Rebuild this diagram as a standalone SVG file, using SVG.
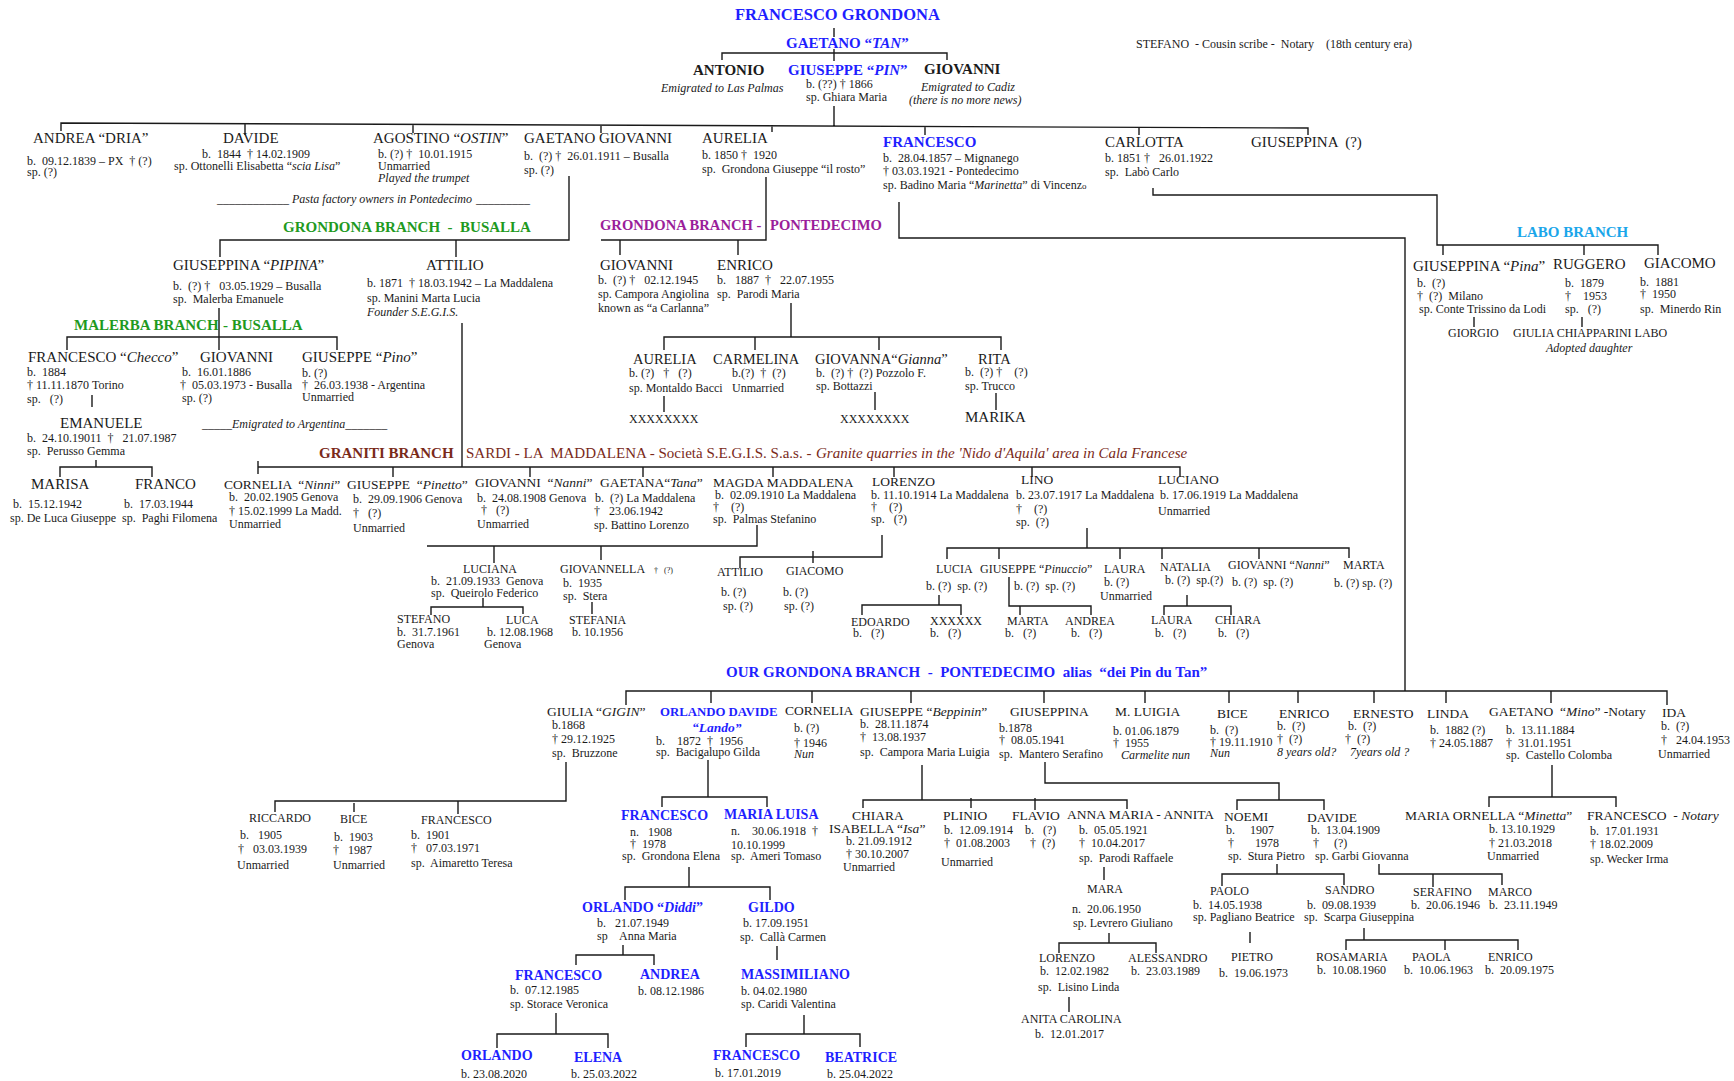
<svg xmlns="http://www.w3.org/2000/svg" width="1734" height="1081" viewBox="0 0 1734 1081">
<style>
text{font-family:"Liberation Serif","Times New Roman",serif;white-space:pre;fill:#1a1a1a}
.n{font-size:15px}
.m{font-size:13.5px}
.s{font-size:12px}
.d{font-size:12px}
.t{font-size:8px}
.g{font-size:14px}
.b{font-weight:bold}
.i{font-style:italic}
.blue{fill:#1f1fff}
.green{fill:#1f9a1f}
.purple{fill:#9a1e9a}
.brown{fill:#7a2a1a}
.lblue{fill:#1aa6ea}
#connectors path{fill:none;stroke:#1a1a1a;stroke-width:1.4}
</style>
<rect width="1734" height="1081" fill="#ffffff"/>
<g id="connectors">
<path d="M834,28V37M834,49V61M722,60V53H947V60"/>
<path d="M834,106V126M61,131V123L1308,128V135M245,124V135M413,124V133M601,125V133M772,125V132M925,127V135M1139,127V135"/>
<path d="M569,176V240H220V257M456,240V257"/>
<path d="M219,308V350M67,350V337H337V350"/>
<path d="M92,395V407M96,460V467M60,477V467H152V477"/>
<path d="M462,323V467M258,461V474M258,467H1180V477M393,467V477M530,467V477M643,467V477M773,467V477M894,467V477M1032,467V477"/>
<path d="M766,177V240H601M620,240V255M738,240V255"/>
<path d="M791,303V337M664,350V337H1001V350M755,337V350M879,337V350"/>
<path d="M664,396V412M875,392V410M996,393V410"/>
<path d="M899,202V238H1405V691"/>
<path d="M1153,188V195H1437V245H1658V255M1443,245V255M1584,245V255M1474,317V327M1582,317V327"/>
<path d="M757,525V546H427M494,546V563M601,546V560"/>
<path d="M483,598V607M431,615V607H523V614M592,602V614"/>
<path d="M882,535V557H740V568M813,551V563"/>
<path d="M1087,528V548M947,559V548H1349V558M999,548V559M1120,548V559M1162,548V559M1259,548V559"/>
<path d="M939,595V605M862,615V605H961V615M1009,577V606H1091V615M1020,606V615M1187,595V606M1164,615V606H1231V615"/>
<path d="M626,705V691H1667V705M711,691V703M812,691V703M911,691V703M1044,691V703M1145,691V703M1229,691V703M1298,691V703M1374,691V703M1446,691V703M1551,691V703"/>
<path d="M566,762V801H275V812M354,803V812M458,801V814"/>
<path d="M708,760V797M662,807V797H767V807M689,867V887M625,900V887H770V900"/>
<path d="M623,945V955M576,965V955H654V965M777,946V960"/>
<path d="M556,1013V1034M497,1048V1034H608V1048M804,1015V1034M746,1047V1034H860V1047"/>
<path d="M922,765V800M863,808V800H1127V809M971,798V808M1035,798V810M1104,867V880M1109,933V943M1059,953V943H1156V953M1069,997V1012"/>
<path d="M1045,762V783H1279V800M1237,810V800H1324V810"/>
<path d="M1277,864V874M1222,886V874H1344V885M1250,932V943M1364,928V940M1346,950V940H1518V950M1445,940V950"/>
<path d="M1379,864V874H1502V885M1433,874V887"/>
<path d="M1552,765V797M1489,807V797H1616V807"/>
</g>

<g id="francesco-grondona"><text x="735" y="20" class="b blue" style="font-size:16.5px">FRANCESCO GRONDONA</text></g>
<g id="gaetano-tan"><text x="786" y="48" class="n b blue">GAETANO “<tspan class="i">TAN</tspan>”</text></g>
<g id="stefano"><text x="1136" y="48" class="d">STEFANO  - Cousin scribe -  Notary    (18th century era)</text></g>
<g id="antonio"><text x="693" y="75" class="n b">ANTONIO</text><text x="661" y="92" class="d i">Emigrated to Las Palmas</text></g>
<g id="giuseppe-pin"><text x="788" y="75" class="n b blue">GIUSEPPE “<tspan class="i">PIN</tspan>”</text><text x="806" y="88" class="d">b. (??) † 1866</text><text x="806" y="101" class="d">sp. Ghiara Maria</text></g>
<g id="giovanni-cadiz"><text x="924" y="74" class="n b">GIOVANNI</text><text x="921" y="91" class="d i">Emigrated to Cadiz</text><text x="909" y="104" class="d i">(there is no more news)</text></g>

<g id="andrea"><text x="33" y="143" class="n">ANDREA “DRIA”</text><text x="27" y="165" class="d">b.  09.12.1839 – PX  † (?)</text><text x="27" y="176" class="d">sp. (?)</text></g>
<g id="davide"><text x="223" y="143" class="n">DAVIDE</text><text x="202" y="158" class="d">b.  1844  † 14.02.1909</text><text x="174" y="170" class="d">sp. Ottonelli Elisabetta “<tspan class="i">scia Lisa</tspan>”</text></g>
<g id="agostino"><text x="373" y="143" class="n">AGOSTINO “<tspan class="i">OSTIN</tspan>”</text><text x="378" y="158" class="d">b. (?) †  10.01.1915</text><text x="378" y="170" class="d">Unmarried</text><text x="378" y="182" class="d i">Played the trumpet</text></g>
<g id="pasta-note"><text y="203" class="d i"><tspan x="217">____________</tspan><tspan x="292">Pasta factory owners in Pontedecimo</tspan><tspan x="476">_________</tspan></text></g>
<g id="gaetano-giovanni"><text x="524" y="143" class="n">GAETANO GIOVANNI</text><text x="524" y="160" class="d">b.  (?) †  26.01.1911 – Busalla</text><text x="524" y="174" class="d">sp. (?)</text></g>
<g id="aurelia-1850"><text x="702" y="143" class="n">AURELIA</text><text x="702" y="159" class="d">b. 1850 †  1920</text><text x="702" y="173" class="d">sp.  Grondona Giuseppe “il rosto”</text></g>
<g id="francesco-1857"><text x="883" y="147" class="n b blue">FRANCESCO</text><text x="883" y="162" class="d">b.  28.04.1857 – Mignanego</text><text x="883" y="175" class="d">† 03.03.1921 - Pontedecimo</text><text x="883" y="189" class="d">sp. Badino Maria “<tspan class="i">Marinetta</tspan>” di Vincenz<tspan style="font-size:9px">o</tspan></text></g>
<g id="carlotta"><text x="1105" y="147" class="n">CARLOTTA</text><text x="1105" y="162" class="d">b. 1851 †   26.01.1922</text><text x="1105" y="176" class="d">sp.  Labò Carlo</text></g>
<g id="giuseppina-q"><text x="1251" y="147" class="n">GIUSEPPINA  (?)</text></g>

<g id="branch-busalla"><text x="283" y="232" class="n b green">GRONDONA BRANCH  -  BUSALLA</text></g>
<g id="branch-pontedecimo"><text x="600" y="230" class="n b purple" style="font-size:14.6px">GRONDONA BRANCH - <tspan x="770">PONTEDECIMO</tspan></text></g>
<g id="branch-labo"><text x="1517" y="237" class="n b lblue">LABO BRANCH</text></g>
<g id="branch-malerba"><text x="74" y="330" class="n b green">MALERBA BRANCH <tspan x="223">- BUSALLA</tspan></text></g>

<g id="giuseppina-pipina"><text x="173" y="270" class="n">GIUSEPPINA “<tspan class="i">PIPINA</tspan>”</text><text x="173" y="290" class="d">b.  (?) †   03.05.1929 – Busalla</text><text x="173" y="303" class="d">sp.  Malerba Emanuele</text></g>
<g id="attilio-1871"><text x="426" y="270" class="n">ATTILIO</text><text x="367" y="287" class="d">b. 1871  † 18.03.1942 – La Maddalena</text><text x="367" y="302" class="d">sp. Manini Marta Lucia</text><text x="367" y="316" class="d i">Founder S.E.G.I.S.</text></g>
<g id="giovanni-1945"><text x="600" y="270" class="n">GIOVANNI</text><text x="598" y="284" class="d">b.  (?) †   02.12.1945</text><text x="598" y="298" class="d">sp. Campora Angiolina</text><text x="598" y="312" class="d">known as “a Carlanna”</text></g>
<g id="enrico-1887"><text x="717" y="270" class="n">ENRICO</text><text x="717" y="284" class="d">b.   1887  †   22.07.1955</text><text x="717" y="298" class="d">sp.  Parodi Maria</text></g>
<g id="giuseppina-pina"><text x="1413" y="271" class="n">GIUSEPPINA “<tspan class="i">Pina</tspan>”</text><text x="1417" y="287" class="d">b.  (?)</text><text x="1417" y="300" class="d">†  (?)  Milano</text><text x="1419" y="313" class="d">sp. Conte Trissino da Lodi</text></g>
<g id="ruggero"><text x="1553" y="269" class="n">RUGGERO</text><text x="1565" y="287" class="d">b.  1879</text><text x="1565" y="300" class="d">†    1953</text><text x="1565" y="313" class="d">sp.   (?)</text></g>
<g id="giacomo-1881"><text x="1644" y="268" class="n">GIACOMO</text><text x="1640" y="286" class="d">b.  1881</text><text x="1640" y="298" class="d">†  1950</text><text x="1640" y="313" class="d">sp.  Minerdo Rin</text></g>
<g id="giorgio"><text x="1448" y="337" class="s">GIORGIO</text></g>
<g id="giulia-chiapparini"><text x="1513" y="337" class="s">GIULIA CHIAPPARINI LABO</text><text x="1546" y="352" class="d i">Adopted daughter</text></g>

<g id="francesco-checco"><text x="28" y="362" class="n">FRANCESCO “<tspan class="i">Checco</tspan>”</text><text x="27" y="376" class="d">b.  1884</text><text x="27" y="389" class="d">† 11.11.1870 Torino</text><text x="27" y="403" class="d">sp.   (?)</text></g>
<g id="giovanni-1886"><text x="200" y="362" class="n">GIOVANNI</text><text x="182" y="376" class="d">b.  16.01.1886</text><text x="180" y="389" class="d">†  05.03.1973 - Busalla</text><text x="182" y="402" class="d">sp. (?)</text></g>
<g id="giuseppe-pino"><text x="302" y="362" class="n">GIUSEPPE “<tspan class="i">Pino</tspan>”</text><text x="302" y="377" class="d">b. (?)</text><text x="302" y="389" class="d">†  26.03.1938 - Argentina</text><text x="302" y="401" class="d">Unmarried</text></g>
<g id="emanuele"><text x="60" y="428" class="n">EMANUELE</text><text x="27" y="442" class="d">b.  24.10.19011  †   21.07.1987</text><text x="27" y="455" class="d">sp.  Perusso Gemma</text></g>
<g id="argentina-note"><text x="202" y="428" class="d i">_____Emigrated to Argentina_______</text></g>
<g id="marisa"><text x="31" y="489" class="n">MARISA</text><text x="13" y="508" class="d">b.  15.12.1942</text><text x="10" y="522" class="d">sp. De Luca Giuseppe</text></g>
<g id="franco"><text x="135" y="489" class="n">FRANCO</text><text x="124" y="508" class="d">b.  17.03.1944</text><text x="122" y="522" class="d">sp.  Paghi Filomena</text></g>

<g id="aurelia-2"><text x="633" y="364" class="n" style="font-size:14.5px">AURELIA</text><text x="629" y="377" class="d">b. (?)   †   (?)</text><text x="629" y="392" class="d">sp. Montaldo Bacci</text></g>
<g id="carmelina"><text x="713" y="364" class="n" style="font-size:14.5px">CARMELINA</text><text x="732" y="377" class="d">b.(?)  †  (?)</text><text x="732" y="392" class="d">Unmarried</text></g>
<g id="giovanna-gianna"><text x="815" y="364" class="n" style="font-size:14.5px">GIOVANNA“<tspan class="i">Gianna</tspan>”</text><text x="816" y="377" class="d">b.  (?) †  (?) Pozzolo F.</text><text x="816" y="390" class="d">sp. Bottazzi</text></g>
<g id="rita"><text x="978" y="364" class="n" style="font-size:14.5px">RITA</text><text x="965" y="376" class="d">b.  (?) †    (?)</text><text x="965" y="390" class="d">sp. Trucco</text></g>
<g id="xxx-1"><text x="629" y="423" class="s">XXXXXXXX</text></g>
<g id="xxx-2"><text x="840" y="423" class="s">XXXXXXXX</text></g>
<g id="marika"><text x="965" y="422" class="n">MARIKA</text></g>

<g id="branch-graniti"><text x="319" y="458" class="n brown"><tspan class="b">GRANITI BRANCH</tspan><tspan x="466">SARDI - LA  MADDALENA - Società S.E.G.I.S. S.a.s. - </tspan><tspan x="816" class="i">Granite quarries in the 'Nido d'Aquila' area in Cala Francese</tspan></text></g>

<g id="cornelia-ninni"><text x="224" y="489" class="m">CORNELIA  “<tspan class="i">Ninni</tspan>”</text><text x="229" y="501" class="d">b.  20.02.1905 Genova</text><text x="229" y="515" class="d">† 15.02.1999 La Madd.</text><text x="229" y="528" class="d">Unmarried</text></g>
<g id="giuseppe-pinetto"><text x="347" y="489" class="m">GIUSEPPE  “<tspan class="i">Pinetto</tspan>”</text><text x="353" y="503" class="d">b.  29.09.1906 Genova</text><text x="353" y="517" class="d">†   (?)</text><text x="353" y="532" class="d">Unmarried</text></g>
<g id="giovanni-nanni"><text x="475" y="487" class="m">GIOVANNI  “<tspan class="i">Nanni</tspan>”</text><text x="477" y="502" class="d">b.  24.08.1908 Genova</text><text x="481" y="514" class="d">†   (?)</text><text x="477" y="528" class="d">Unmarried</text></g>
<g id="gaetana-tana"><text x="600" y="487" class="m">GAETANA“<tspan class="i">Tana</tspan>”</text><text x="595" y="502" class="d">b.  (?) La Maddalena</text><text x="594" y="515" class="d">†   23.06.1942</text><text x="594" y="529" class="d">sp. Battino Lorenzo</text></g>
<g id="magda"><text x="713" y="487" class="m">MAGDA MADDALENA</text><text x="715" y="499" class="d">b.  02.09.1910 La Maddalena</text><text x="713" y="511" class="d">†    (?)</text><text x="713" y="523" class="d">sp.  Palmas Stefanino</text></g>
<g id="lorenzo-1914"><text x="872" y="486" class="m">LORENZO</text><text x="871" y="499" class="d">b. 11.10.1914 La Maddalena</text><text x="871" y="511" class="d">†    (?)</text><text x="871" y="523" class="d">sp.   (?)</text></g>
<g id="lino"><text x="1021" y="484" class="m">LINO</text><text x="1016" y="499" class="d">b. 23.07.1917 La Maddalena</text><text x="1016" y="513" class="d">†    (?)</text><text x="1016" y="526" class="d">sp.  (?)</text></g>
<g id="luciano"><text x="1158" y="484" class="m">LUCIANO</text><text x="1160" y="499" class="d">b. 17.06.1919 La Maddalena</text><text x="1158" y="515" class="d">Unmarried</text></g>

<g id="luciana"><text x="463" y="573" class="s">LUCIANA</text><text x="431" y="585" class="d">b.  21.09.1933  Genova</text><text x="431" y="597" class="d">sp.  Queirolo Federico</text></g>
<g id="giovannella"><text x="560" y="573" class="s">GIOVANNELLA</text><text x="654" y="573" class="t">†   (?)</text><text x="563" y="587" class="d">b.  1935</text><text x="563" y="600" class="d">sp.  Stera</text></g>
<g id="attilio-2"><text x="717" y="576" class="s">ATTILIO</text><text x="721" y="596" class="d">b. (?)</text><text x="723" y="610" class="d">sp. (?)</text></g>
<g id="giacomo-2"><text x="786" y="575" class="s">GIACOMO</text><text x="783" y="596" class="d">b. (?)</text><text x="784" y="610" class="d">sp. (?)</text></g>
<g id="lucia"><text x="936" y="573" class="s">LUCIA</text><text x="926" y="590" class="d">b. (?)  sp. (?)</text></g>
<g id="giuseppe-pinuccio"><text x="980" y="573" class="s">GIUSEPPE “<tspan class="i">Pinuccio</tspan>”</text><text x="1014" y="590" class="d">b. (?)  sp. (?)</text></g>
<g id="laura-1"><text x="1104" y="573" class="s">LAURA</text><text x="1104" y="586" class="d">b. (?)</text><text x="1100" y="600" class="d">Unmarried</text></g>
<g id="natalia"><text x="1160" y="571" class="s">NATALIA</text><text x="1165" y="584" class="d">b. (?)  sp.(?)</text></g>
<g id="giovanni-nanni-2"><text x="1228" y="569" class="s">GIOVANNI “<tspan class="i">Nanni</tspan>”</text><text x="1232" y="586" class="d">b. (?)  sp. (?)</text></g>
<g id="marta-1"><text x="1343" y="569" class="s">MARTA</text><text x="1334" y="587" class="d">b. (?) sp. (?)</text></g>

<g id="stefano-1961"><text x="397" y="623" class="s">STEFANO</text><text x="397" y="636" class="d">b.  31.7.1961</text><text x="397" y="648" class="d">Genova</text></g>
<g id="luca"><text x="506" y="624" class="s">LUCA</text><text x="487" y="636" class="d">b. 12.08.1968</text><text x="484" y="648" class="d">Genova</text></g>
<g id="stefania"><text x="569" y="624" class="s">STEFANIA</text><text x="572" y="636" class="d">b. 10.1956</text></g>
<g id="edoardo"><text x="851" y="626" class="s">EDOARDO</text><text x="853" y="637" class="d">b.   (?)</text></g>
<g id="xxx-3"><text x="930" y="625" class="s">XXXXXX</text><text x="930" y="637" class="d">b.   (?)</text></g>
<g id="marta-2"><text x="1007" y="625" class="s">MARTA</text><text x="1005" y="637" class="d">b.   (?)</text></g>
<g id="andrea-2"><text x="1065" y="625" class="s">ANDREA</text><text x="1071" y="637" class="d">b.   (?)</text></g>
<g id="laura-2"><text x="1151" y="624" class="s">LAURA</text><text x="1155" y="637" class="d">b.   (?)</text></g>
<g id="chiara-1"><text x="1215" y="624" class="s">CHIARA</text><text x="1218" y="637" class="d">b.   (?)</text></g>

<g id="branch-our"><text x="726" y="677" class="n b blue">OUR GRONDONA BRANCH  -  PONTEDECIMO  alias  “dei Pin du Tan”</text></g>

<g id="giulia-gigin"><text x="547" y="716" class="m">GIULIA “<tspan class="i">GIGIN</tspan>”</text><text x="552" y="729" class="d">b.1868</text><text x="552" y="743" class="d">† 29.12.1925</text><text x="552" y="757" class="d">sp.  Bruzzone</text></g>
<g id="orlando-davide"><text x="660" y="716" class="b blue" style="font-size:12.8px">ORLANDO DAVIDE</text><text x="692" y="732" class="m b blue i">“Lando”</text><text x="656" y="745" class="d">b.    1872  †  1956</text><text x="656" y="756" class="d">sp.  Bacigalupo Gilda</text></g>
<g id="cornelia-nun"><text x="785" y="715" class="m">CORNELIA</text><text x="794" y="732" class="d">b. (?)</text><text x="794" y="747" class="d">† 1946</text><text x="794" y="758" class="d i">Nun</text></g>
<g id="giuseppe-beppinin"><text x="860" y="716" class="m">GIUSEPPE “<tspan class="i">Beppinin</tspan>”</text><text x="860" y="728" class="d">b.  28.11.1874</text><text x="860" y="741" class="d">†  13.08.1937</text><text x="860" y="756" class="d">sp.  Campora Maria Luigia</text></g>
<g id="giuseppina-1878"><text x="1010" y="716" class="m">GIUSEPPINA</text><text x="999" y="732" class="d">b.1878</text><text x="999" y="744" class="d">†  08.05.1941</text><text x="999" y="758" class="d">sp.  Mantero Serafino</text></g>
<g id="m-luigia"><text x="1115" y="716" class="m">M. LUIGIA</text><text x="1113" y="735" class="d">b. 01.06.1879</text><text x="1113" y="747" class="d">†  1955</text><text x="1121" y="759" class="d i">Carmelite nun</text></g>
<g id="bice-nun"><text x="1217" y="718" class="m">BICE</text><text x="1210" y="734" class="d">b.  (?)</text><text x="1210" y="746" class="d">† 19.11.1910</text><text x="1210" y="757" class="d i">Nun</text></g>
<g id="enrico-child"><text x="1279" y="718" class="m">ENRICO</text><text x="1277" y="730" class="d">b.  (?)</text><text x="1277" y="743" class="d">†  (?)</text><text x="1277" y="756" class="d i">8 years old?</text></g>
<g id="ernesto"><text x="1353" y="718" class="m">ERNESTO</text><text x="1348" y="730" class="d">b.  (?)</text><text x="1345" y="743" class="d">†  (?)</text><text x="1350" y="756" class="d i">7years old ?</text></g>
<g id="linda"><text x="1427" y="718" class="m">LINDA</text><text x="1430" y="734" class="d">b.  1882 (?)</text><text x="1430" y="747" class="d">† 24.05.1887</text></g>
<g id="gaetano-mino"><text x="1489" y="716" class="m">GAETANO  “<tspan class="i">Mino</tspan>” -Notary</text><text x="1506" y="734" class="d">b.  13.11.1884</text><text x="1506" y="747" class="d">†  31.01.1951</text><text x="1506" y="759" class="d">sp.  Castello Colomba</text></g>
<g id="ida"><text x="1662" y="717" class="m">IDA</text><text x="1661" y="730" class="d">b.  (?)</text><text x="1661" y="744" class="d">†   24.04.1953</text><text x="1658" y="758" class="d">Unmarried</text></g>

<g id="riccardo"><text x="249" y="822" class="s">RICCARDO</text><text x="240" y="839" class="d">b.   1905</text><text x="238" y="853" class="d">†   03.03.1939</text><text x="237" y="869" class="d">Unmarried</text></g>
<g id="bice-1903"><text x="340" y="823" class="s">BICE</text><text x="334" y="841" class="d">b.  1903</text><text x="333" y="854" class="d">†   1987</text><text x="333" y="869" class="d">Unmarried</text></g>
<g id="francesco-1901"><text x="421" y="824" class="s">FRANCESCO</text><text x="411" y="839" class="d">b.  1901</text><text x="411" y="852" class="d">†   07.03.1971</text><text x="411" y="867" class="d">sp.  Aimaretto Teresa</text></g>
<g id="francesco-1908"><text x="621" y="820" class="g b blue">FRANCESCO</text><text x="630" y="836" class="d">n.   1908</text><text x="630" y="848" class="d">†  1978</text><text x="622" y="860" class="d">sp.  Grondona Elena</text></g>
<g id="maria-luisa"><text x="724" y="819" class="g b blue">MARIA LUISA</text><text x="731" y="835" class="d">n.    30.06.1918  †</text><text x="731" y="849" class="d">10.10.1999</text><text x="731" y="860" class="d">sp.  Ameri Tomaso</text></g>
<g id="chiara-isa"><text x="852" y="820" class="m">CHIARA</text><text x="829" y="833" class="m">ISABELLA “<tspan class="i">Isa</tspan>”</text><text x="846" y="845" class="d">b. 21.09.1912</text><text x="846" y="858" class="d">† 30.10.2007</text><text x="843" y="871" class="d">Unmarried</text></g>
<g id="plinio"><text x="943" y="820" class="m">PLINIO</text><text x="944" y="834" class="d">b.  12.09.1914</text><text x="944" y="847" class="d">†  01.08.2003</text><text x="941" y="866" class="d">Unmarried</text></g>
<g id="flavio"><text x="1012" y="820" class="m">FLAVIO</text><text x="1025" y="834" class="d">b.   (?)</text><text x="1030" y="847" class="d">†  (?)</text></g>
<g id="anna-maria"><text x="1067" y="819" class="m">ANNA MARIA - ANNITA</text><text x="1079" y="834" class="d">b.  05.05.1921</text><text x="1079" y="847" class="d">†  10.04.2017</text><text x="1079" y="862" class="d">sp.  Parodi Raffaele</text></g>
<g id="noemi"><text x="1224" y="821" class="m">NOEMI</text><text x="1226" y="834" class="d">b.     1907</text><text x="1228" y="847" class="d">†       1978</text><text x="1228" y="860" class="d">sp.  Stura Pietro</text></g>
<g id="davide-1909"><text x="1307" y="822" class="m">DAVIDE</text><text x="1311" y="834" class="d">b.  13.04.1909</text><text x="1313" y="847" class="d">†     (?)</text><text x="1315" y="860" class="d">sp. Garbi Giovanna</text></g>
<g id="maria-ornella"><text x="1405" y="820" class="m">MARIA ORNELLA “<tspan class="i">Minetta</tspan>”</text><text x="1489" y="833" class="d">b. 13.10.1929</text><text x="1489" y="847" class="d">† 21.03.2018</text><text x="1487" y="860" class="d">Unmarried</text></g>
<g id="francesco-notary"><text x="1587" y="820" class="m">FRANCESCO  - <tspan class="i">Notary</tspan></text><text x="1590" y="835" class="d">b.  17.01.1931</text><text x="1590" y="848" class="d">† 18.02.2009</text><text x="1590" y="863" class="d">sp. Wecker Irma</text></g>

<g id="orlando-diddi"><text x="582" y="912" class="g b blue">ORLANDO “<tspan class="i">Diddi</tspan>”</text><text x="597" y="927" class="d">b.   21.07.1949</text><text x="597" y="940" class="d">sp    Anna Maria</text></g>
<g id="gildo"><text x="748" y="912" class="g b blue">GILDO</text><text x="743" y="927" class="d">b. 17.09.1951</text><text x="740" y="941" class="d">sp.  Callà Carmen</text></g>
<g id="mara"><text x="1087" y="893" class="s">MARA</text><text x="1072" y="913" class="d">n.  20.06.1950</text><text x="1073" y="927" class="d">sp. Levrero Giuliano</text></g>
<g id="paolo"><text x="1210" y="895" class="s">PAOLO</text><text x="1193" y="909" class="d">b.  14.05.1938</text><text x="1193" y="921" class="d">sp. Pagliano Beatrice</text></g>
<g id="sandro"><text x="1325" y="894" class="s">SANDRO</text><text x="1307" y="909" class="d">b.  09.08.1939</text><text x="1304" y="921" class="d">sp.  Scarpa Giuseppina</text></g>
<g id="serafino"><text x="1413" y="896" class="s">SERAFINO</text><text x="1411" y="909" class="d">b.  20.06.1946</text></g>
<g id="marco"><text x="1488" y="896" class="s">MARCO</text><text x="1489" y="909" class="d">b.  23.11.1949</text></g>

<g id="francesco-1985"><text x="515" y="980" class="g b blue">FRANCESCO</text><text x="510" y="994" class="d">b.  07.12.1985</text><text x="510" y="1008" class="d">sp. Storace Veronica</text></g>
<g id="andrea-1986"><text x="640" y="979" class="g b blue">ANDREA</text><text x="638" y="995" class="d">b. 08.12.1986</text></g>
<g id="massimiliano"><text x="741" y="979" class="g b blue">MASSIMILIANO</text><text x="741" y="995" class="d">b. 04.02.1980</text><text x="741" y="1008" class="d">sp. Caridi Valentina</text></g>
<g id="lorenzo-1982"><text x="1039" y="962" class="s">LORENZO</text><text x="1040" y="975" class="d">b.  12.02.1982</text><text x="1038" y="991" class="d">sp.  Lisino Linda</text></g>
<g id="alessandro"><text x="1128" y="962" class="s">ALESSANDRO</text><text x="1131" y="975" class="d">b.  23.03.1989</text></g>
<g id="pietro"><text x="1231" y="961" class="s">PIETRO</text><text x="1219" y="977" class="d">b.  19.06.1973</text></g>
<g id="rosamaria"><text x="1316" y="961" class="s">ROSAMARIA</text><text x="1317" y="974" class="d">b.  10.08.1960</text></g>
<g id="paola"><text x="1412" y="961" class="s">PAOLA</text><text x="1404" y="974" class="d">b.  10.06.1963</text></g>
<g id="enrico-1975"><text x="1488" y="961" class="s">ENRICO</text><text x="1485" y="974" class="d">b.  20.09.1975</text></g>
<g id="anita-carolina"><text x="1021" y="1023" class="s">ANITA CAROLINA</text><text x="1035" y="1038" class="d">b.  12.01.2017</text></g>

<g id="orlando-2020"><text x="461" y="1060" class="g b blue">ORLANDO</text><text x="461" y="1078" class="d">b. 23.08.2020</text></g>
<g id="elena"><text x="574" y="1062" class="g b blue">ELENA</text><text x="571" y="1078" class="d">b. 25.03.2022</text></g>
<g id="francesco-2019"><text x="713" y="1060" class="g b blue">FRANCESCO</text><text x="715" y="1077" class="d">b. 17.01.2019</text></g>
<g id="beatrice"><text x="825" y="1062" class="g b blue">BEATRICE</text><text x="827" y="1078" class="d">b. 25.04.2022</text></g>
</svg>
